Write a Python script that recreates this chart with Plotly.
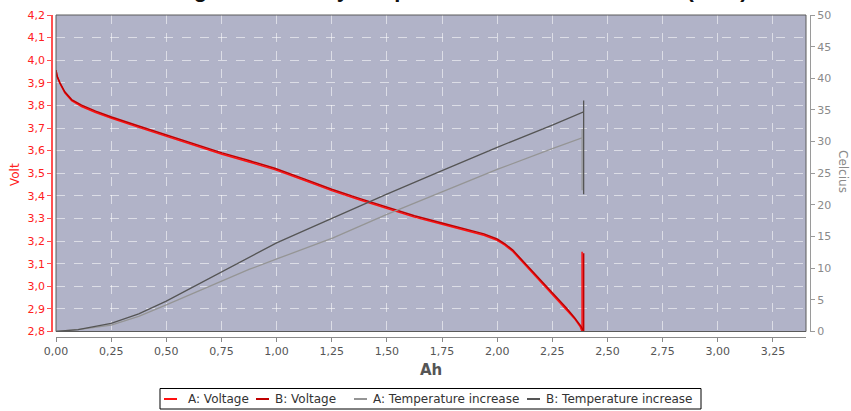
import plotly.graph_objects as go

# ---------------- data ----------------
ah_volt_a = [0, 0.005, 0.018, 0.04, 0.071, 0.116, 0.18, 0.252, 0.375, 0.5, 0.625, 0.753, 0.875,
             0.992, 1.125, 1.25, 1.375, 1.5, 1.625, 1.75, 1.875, 1.94, 2.0, 2.035, 2.071, 2.132,
             2.192, 2.255, 2.313, 2.35, 2.376, 2.385, 2.385]
volt_a = [3.956, 3.928, 3.897, 3.856, 3.821, 3.795, 3.769, 3.743, 3.703, 3.663, 3.624, 3.584, 3.550,
          3.516, 3.469, 3.423, 3.383, 3.343, 3.306, 3.274, 3.244, 3.226, 3.203, 3.182, 3.154, 3.090,
          3.024, 2.958, 2.900, 2.858, 2.822, 2.800, 3.153]

ah_volt_b = [0, 0.005, 0.018, 0.04, 0.071, 0.116, 0.18, 0.252, 0.375, 0.5, 0.625, 0.753, 0.875,
             0.992, 1.125, 1.25, 1.375, 1.5, 1.625, 1.75, 1.875, 1.94, 2.0, 2.035, 2.071, 2.132,
             2.192, 2.255, 2.313, 2.35, 2.381, 2.392, 2.392]
volt_b = [3.956, 3.930, 3.900, 3.860, 3.826, 3.801, 3.775, 3.749, 3.709, 3.669, 3.630, 3.590, 3.556,
          3.522, 3.475, 3.429, 3.389, 3.349, 3.312, 3.280, 3.250, 3.232, 3.209, 3.188, 3.160, 3.096,
          3.029, 2.963, 2.905, 2.862, 2.822, 2.800, 3.146]

ah_temp_a = [0, 0.1, 0.25, 0.375, 0.5, 0.625, 0.753, 0.875, 1.004, 1.256, 1.5, 1.75, 2.0, 2.25,
             2.385, 2.385, 2.385]
temp_a = [0, 0.3, 1.0, 2.4, 4.2, 6.1, 8.0, 9.8, 11.5, 14.8, 18.5, 22.1, 25.6, 28.9, 30.6, 32.0, 22.3]

ah_temp_b = [0, 0.1, 0.25, 0.375, 0.5, 0.625, 0.75, 0.875, 1.0, 1.143, 1.286, 1.5, 1.75, 2.0,
             2.25, 2.392, 2.392, 2.392]
temp_b = [0, 0.3, 1.3, 2.8, 4.8, 7.1, 9.5, 11.8, 14.0, 16.2, 18.4, 21.7, 25.4, 29.1, 32.6, 34.7,
          36.5, 21.7]

series_names = ["A: Voltage", "B: Voltage", "A: Temperature increase", "B: Temperature increase"]
series_colors = ["#ff1010", "#c00000", "#959595", "#555555"]
title_text = "Discharge with battery temperature measured on cells (5.0A)"

# ---------------- layout geometry ----------------
W, H = 851, 411
ML, MR, MT, MB = 52, 41, 15, 74
PW, PH = W - ML - MR, H - MT - MB


def px(x):
    return (x - ML) / PW


def py(y):
    return (H - MB - y) / PH


FONT = "DejaVu Sans"
GRID = "rgba(255,255,255,0.55)"

fig = go.Figure()
fig.add_trace(go.Scatter(x=ah_volt_a, y=volt_a, name=series_names[0], mode="lines",
                         line=dict(color=series_colors[0], width=1.5), yaxis="y"))
fig.add_trace(go.Scatter(x=ah_volt_b, y=volt_b, name=series_names[1], mode="lines",
                         line=dict(color=series_colors[1], width=1.5), yaxis="y"))
fig.add_trace(go.Scatter(x=ah_temp_a, y=temp_a, name=series_names[2], mode="lines",
                         line=dict(color=series_colors[2], width=1.3), yaxis="y2"))
fig.add_trace(go.Scatter(x=ah_temp_b, y=temp_b, name=series_names[3], mode="lines",
                         line=dict(color=series_colors[3], width=1.3), yaxis="y2"))

fig.update_layout(
    width=W, height=H,
    margin=dict(l=ML, r=MR, t=MT, b=MB, pad=0, autoexpand=False),
    paper_bgcolor="white",
    plot_bgcolor="#b1b3c8",
    separators=",.",
    showlegend=False,
    font=dict(family=FONT, size=11, color="#555555"),
    xaxis=dict(range=[0, 3.4], domain=[px(56), px(806)], anchor="free", position=0,
               dtick=0.25, tick0=0, tickformat=".2f", automargin=False,
               showgrid=True, gridcolor=GRID, griddash="dash", gridwidth=1,
               zeroline=False, showline=True, linecolor="#8a8a8a", linewidth=1,
               ticks="outside", ticklen=4, tickcolor="#8a8a8a",
               tickfont=dict(family=FONT, size=11, color="#555555")),
    yaxis=dict(range=[2.8, 4.2], domain=[py(331.5), 1], anchor="free", position=0,
               dtick=0.1, tick0=2.8, tickformat=".1f", automargin=False,
               showgrid=True, gridcolor=GRID, griddash="dash", gridwidth=1,
               zeroline=False, showline=True, linecolor="#ff5050", linewidth=1.5,
               ticks="outside", ticklen=4, tickcolor="#ff5050",
               tickfont=dict(family=FONT, size=11, color="#ff2020")),
    yaxis2=dict(range=[0, 50], overlaying="y", side="right", anchor="free", position=1,
                dtick=5, tick0=0, showgrid=False, zeroline=False, automargin=False,
                showline=True, linecolor="#9a9a9a", linewidth=1,
                ticks="outside", ticklen=4, tickcolor="#9a9a9a",
                tickfont=dict(family=FONT, size=11, color="#8a8a8a")),
)

# plot frame
fig.add_shape(type="rect", xref="x domain", yref="y domain", x0=0, x1=1, y0=0, y1=1,
              line=dict(color="#5a5a5a", width=1), fillcolor="rgba(0,0,0,0)", layer="above")

# axis titles & chart title
fig.add_annotation(text="Volt", xref="paper", yref="paper", x=px(15), y=py(175),
                   xanchor="center", yanchor="middle", textangle=-90, showarrow=False,
                   font=dict(family=FONT, size=12, color="#ff2020"))
fig.add_annotation(text="Celcius", xref="paper", yref="paper", x=px(843), y=py(172),
                   xanchor="center", yanchor="middle", textangle=90, showarrow=False,
                   font=dict(family=FONT, size=12, color="#8a8a8a"))
fig.add_annotation(text="<b>Ah</b>", xref="paper", yref="paper", x=px(431), y=py(370),
                   xanchor="center", yanchor="middle", showarrow=False,
                   font=dict(family=FONT, size=15, color="#555555"))
fig.add_annotation(text="<b>" + title_text + "</b>", xref="paper", yref="paper",
                   x=px(430), y=py(-10), xanchor="center", yanchor="middle", showarrow=False,
                   font=dict(family="Liberation Sans", size=22, color="#111111"))

# legend box (drawn manually to match the compact original legend)
fig.add_shape(type="rect", xref="paper", yref="paper", x0=px(160), x1=px(701),
              y0=py(409), y1=py(388.5), line=dict(color="black", width=1),
              fillcolor="white")
sym_x = [164, 256, 354, 527]
txt_x = [186, 273, 371, 544]
for i, name in enumerate(series_names):
    fig.add_shape(type="line", xref="paper", yref="paper", x0=px(sym_x[i]), x1=px(sym_x[i] + 13),
                  y0=py(399), y1=py(399), line=dict(color=series_colors[i], width=2))
    fig.add_annotation(text=name, xref="paper", yref="paper", x=px(txt_x[i]), y=py(399),
                       xanchor="left", yanchor="middle", showarrow=False,
                       font=dict(family=FONT, size=12, color="#333333"))

fig.write_html("out.html", config={"displayModeBar": False},
               post_script="document.body.style.margin='0';")
